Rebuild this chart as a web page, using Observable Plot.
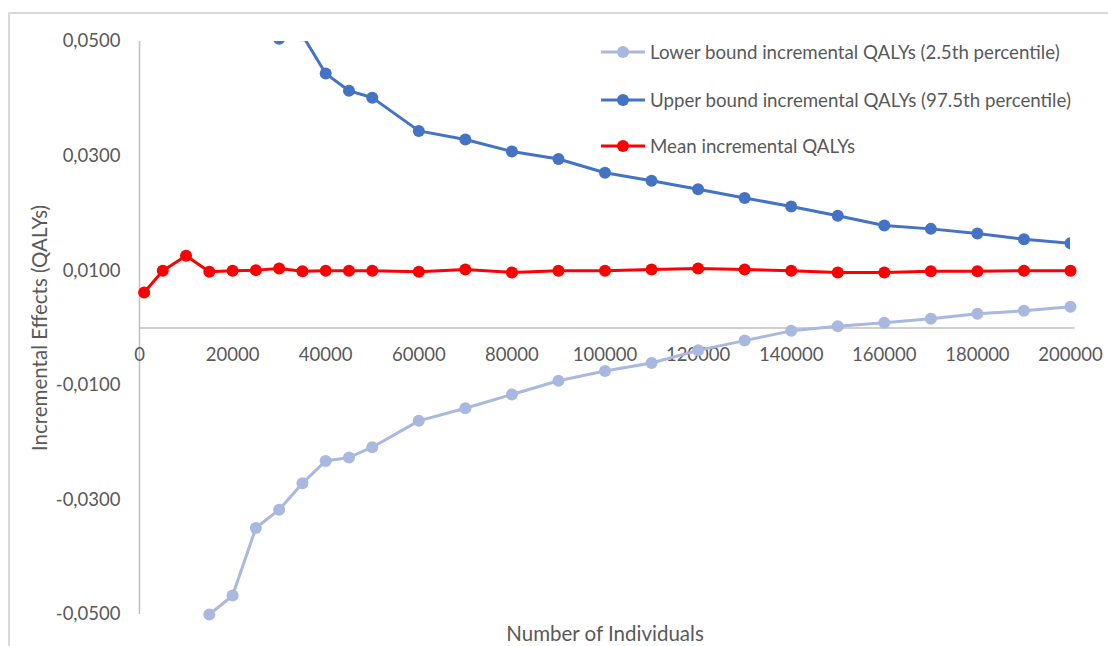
<!DOCTYPE html>
<html>
<head>
<meta charset="utf-8">
<script src="https://cdn.jsdelivr.net/npm/d3@7"></script>
<script src="https://cdn.jsdelivr.net/npm/@observablehq/plot@0.6"></script>
<style>
  html, body { margin: 0; padding: 0; background: #fff; }
  #wrap { position: relative; width: 1108px; height: 646px; overflow: hidden; font-family: Lato, "Open Sans", sans-serif; }
  #border { position: absolute; left: 8px; top: 12px; width: 1200px; height: 700px; border-top: 2px solid #d9d9d9; border-left: 2px solid #d9d9d9; box-sizing: border-box; }
  #chart { position: absolute; left: 0; top: 0; }
  #legend { position: absolute; left: 600px; top: 40px; color: #595959; font-size: 18.7px; }
  .item { position: absolute; left: 0; white-space: nowrap; display: flex; align-items: center; height: 24px; }
  .item svg { margin-right: 4px; }
</style>
</head>
<body>
<div id="wrap">
  <div id="border"></div>
  <div id="chart"></div>
  <div id="legend"></div>
</div>
<script>
// ---- data ----
const individuals = [1000, 5000, 10000, 15000, 20000, 25000, 30000, 35000, 40000, 45000, 50000,
  60000, 70000, 80000, 90000, 100000, 110000, 120000, 130000, 140000, 150000, 160000, 170000, 180000, 190000, 200000];
const lowerQALYs = [null, null, null, -0.0500, -0.0467, -0.0349, -0.0317, -0.0271, -0.0232, -0.0226, -0.0208,
  -0.0162, -0.0140, -0.0116, -0.0092, -0.0075, -0.0061, -0.0039, -0.0022, -0.0005, 0.0003, 0.0009, 0.0016, 0.0025, 0.0030, 0.0037];
const upperQALYs = [null, null, null, null, null, null, 0.0505, 0.0511, 0.0444, 0.0414, 0.0402,
  0.0344, 0.0329, 0.0308, 0.0295, 0.0271, 0.0257, 0.0242, 0.0227, 0.0212, 0.0196, 0.0179, 0.0173, 0.0165, 0.0155, 0.0148];
const meanQALYs = [0.0062, 0.0100, 0.0126, 0.0098, 0.0100, 0.0101, 0.0104, 0.0099, 0.0100, 0.0100, 0.0100,
  0.0098, 0.0102, 0.0097, 0.0100, 0.0100, 0.0102, 0.0104, 0.0102, 0.0100, 0.0097, 0.0097, 0.0099, 0.0099, 0.0100, 0.0100];
const seriesNames = ["Lower bound incremental QALYs (2.5th percentile)", "Upper bound incremental QALYs (97.5th percentile)", "Mean incremental QALYs"];
const seriesColors = ["#A9B8DE", "#4472C4", "#FF0000"];
const xTicks = [0, 20000, 40000, 60000, 80000, 100000, 120000, 140000, 160000, 180000, 200000];
const yTicks = [-0.05, -0.03, -0.01, 0.01, 0.03, 0.05];
const xLabel = "Number of Individuals";
const yLabel = "Incremental Effects (QALYs)";

const toRows = vals => individuals.map((x, i) => ({x, y: vals[i]})).filter(d => d.y != null);
const lower = toRows(lowerQALYs), upper = toRows(upperQALYs), mean = toRows(meanQALYs);
const fmtY = v => d3.format(".4f")(v).replace("\u2212", "-").replace(".", ",");

const textColor = "#595959";
const axisColor = "#BFBFBF";
const dotR = 6;

const chart = Plot.plot({
  width: 1108,
  height: 646,
  marginTop: 41,
  marginBottom: 32,
  marginLeft: 139,
  marginRight: 38,
  style: {fontFamily: "Lato, 'Open Sans', sans-serif", fontSize: "18.5px", color: textColor, background: "transparent"},
  x: {domain: [0, 200000], axis: null},
  y: {domain: [-0.05, 0.05], axis: null},
  marks: [
    Plot.ruleX([0], {y1: -0.05, y2: 0.05, stroke: axisColor, strokeWidth: 1.5}),
    Plot.ruleY([0], {x1: 0, x2: 201000, stroke: axisColor, strokeWidth: 1.5}),
    Plot.axisY({ticks: yTicks, tickFormat: fmtY, tickSize: 0, tickPadding: 19, fill: textColor, label: null}),
    Plot.text(xTicks, {x: d => d, y: 0, dy: 27, text: d => String(d), fill: textColor}),
    Plot.text([yLabel], {frameAnchor: "left", dx: -99, rotate: -90, textAnchor: "middle", lineAnchor: "middle", fontSize: 20.5, text: d => d, fill: textColor}),
    Plot.text([xLabel], {frameAnchor: "bottom", dy: 20, textAnchor: "middle", lineAnchor: "middle", fontSize: 20.5, text: d => d, fill: textColor}),
    Plot.line(lower, {x: "x", y: "y", stroke: seriesColors[0], strokeWidth: 3}),
    Plot.dot(lower, {x: "x", y: "y", r: dotR, fill: seriesColors[0]}),
    Plot.line(upper, {x: "x", y: "y", stroke: seriesColors[1], strokeWidth: 3, clip: true}),
    Plot.dot(upper, {x: "x", y: "y", r: dotR, fill: seriesColors[1], clip: true}),
    Plot.line(mean, {x: "x", y: "y", stroke: seriesColors[2], strokeWidth: 3}),
    Plot.dot(mean, {x: "x", y: "y", r: dotR, fill: seriesColors[2]})
  ]
});
document.getElementById("chart").appendChild(chart);

// legend
const legend = document.getElementById("legend");
const rowTops = [0, 48, 94];
seriesNames.forEach((name, i) => {
  const div = document.createElement("div");
  div.className = "item";
  div.style.top = rowTops[i] + "px";
  div.innerHTML = `<svg width="46" height="14"><line x1="1" x2="45" y1="7" y2="7" stroke="${seriesColors[i]}" stroke-width="3"/><circle cx="23" cy="7" r="${dotR}" fill="${seriesColors[i]}"/></svg><span>${name}</span>`;
  legend.appendChild(div);
});
</script>
</body>
</html>
